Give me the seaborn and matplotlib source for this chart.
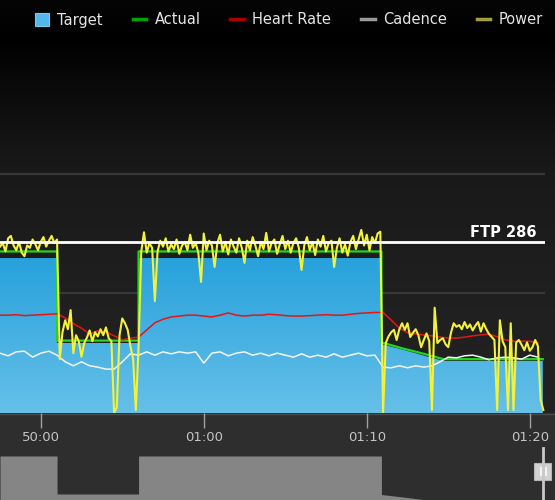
import numpy as np
import matplotlib
matplotlib.use("Agg")
import matplotlib.pyplot as plt
import seaborn as sns
from matplotlib.colors import LinearSegmentedColormap
from matplotlib.lines import Line2D
from matplotlib.patches import Rectangle, Patch

# ---------------- data ----------------
power_start_min = 47.5
power_step_min = 1 / 6          # 10 s samples
power_watts = [
    278, 284, 270, 292, 296, 280, 272, 286, 268, 262, 280, 276, 290, 282, 272, 286, 294, 278, 288, 296, 284, 290,
    90, 135, 155, 140, 172, 100, 130, 120, 94, 117, 126, 138, 120, 135, 128, 140, 130, 143, 125, 120, 0, 10,
    130, 158, 150, 139, 112, 90, 5, 110, 270,
    302, 268, 284, 276, 187, 270, 288, 278, 292, 270,
    282, 274, 290, 266, 280, 286, 272, 298, 276, 284,
    268, 219, 300, 272, 288, 280, 244, 284, 298, 270,
    286, 265, 290, 278, 268, 292, 276, 251, 288, 272,
    294, 280, 262, 286, 274, 301, 270, 284, 290, 266,
    282, 296, 274, 288, 268, 284, 292, 276, 239, 280,
    294, 272, 286, 264, 290, 278, 296, 270, 284, 288,
    244, 276, 292, 268, 282, 263, 286, 296, 274, 290,
    306, 280, 298, 272, 294, 284, 300, 303,
    0, 117, 128, 135, 139, 122, 140, 150, 139, 150,
    127, 134, 140, 130, 110, 122, 133, 120, 5, 176,
    117, 122, 125, 115, 110, 134, 150, 144, 147, 140,
    152, 142, 148, 138, 146, 152, 136, 150, 140, 132,
    127, 122, 5, 155, 120, 110, 5, 150, 5, 118,
    122, 114, 105, 118, 104, 110, 122, 112, 22, 5,
]

slow_step_min = 0.5             # 30 s samples
hr_bpm = [
    141.8, 141.8, 141.9, 141.7, 141.8, 141.9, 142.0, 142.1, 141.2, 139.9,
    138.9, 137.6, 138.3, 138.1, 137.2, 136.3, 136.7, 136.9, 138.5, 140.1,
    140.9, 141.4, 141.6, 141.8, 141.8, 141.6, 141.4, 141.8, 142.3, 141.8,
    141.6, 141.8, 141.8, 142.0, 141.9, 141.7, 141.6, 141.6, 141.7, 141.8,
    141.9, 141.8, 141.8, 142.0, 142.2, 142.3, 142.4, 142.4, 140.7, 138.9,
    137.9, 137.6, 137.4, 137.2, 136.9, 136.7, 136.7, 136.9, 137.2, 137.4,
    137.6, 137.0, 136.3, 136.0, 136.0, 136.0, 135.6,
]
cadence_rpm = [
    90, 86, 92, 93, 84, 90, 93, 87, 77, 71,
    77, 71, 69, 66, 66, 77, 89, 87, 92, 87,
    92, 89, 92, 90, 92, 75, 90, 92, 86, 90,
    92, 87, 90, 86, 90, 87, 84, 89, 84, 87,
    84, 89, 84, 87, 90, 86, 87, 69, 68, 71,
    68, 71, 69, 71, 77, 84, 83, 86, 87, 84,
    80, 83, 84, 83, 81, 87, 84,
]

target_time = [47.5, 51.0, 51.0, 56.0, 56.0, 70.9, 70.9, 72.2, 73.5, 74.7, 80.8]
target_watts = [259, 259, 117, 117, 259, 259, 115, 106, 96, 87, 87]
actual_watts = [270, 270, 121, 121, 270, 270, 118, 108, 99, 90, 90]

ftp_watts = 286
x_ticks = [50, 60, 70, 80]
x_tick_labels = ["50:00", "01:00", "01:10", "01:20"]
legend_labels = ["Target", "Actual", "Heart Rate", "Cadence", "Power"]

power_time = power_start_min + np.arange(len(power_watts)) * power_step_min
slow_time = power_start_min + np.arange(len(hr_bpm)) * slow_step_min

# ---------------- figure ----------------
W, H = 555, 500
fig = plt.figure(figsize=(W / 100, H / 100), dpi=100)
plt.rcParams["font.family"] = ["DejaVu Sans"]


def fx(px):
    return px / W


def fy(py):
    return 1 - py / H


X0, X1 = 47.5, 47.5 + 545 / 16.3

# background
bg = fig.add_axes([0, 0, 1, 1], zorder=-10)
bg.set_xlim(0, W)
bg.set_ylim(H, 0)
bg.axis("off")
yy = np.arange(H)
vals = np.interp(yy, [0, 40, 100, 170, 300, 413], [0.02, 0.0, 0.05, 0.098, 0.125, 0.135])
img = np.dstack([np.repeat(vals[:, None], 2, axis=1)] * 3)
bg.imshow(img, extent=[0, W, H, 0], aspect="auto", interpolation="bilinear")
bg.add_patch(Rectangle((0, 413), W, H - 413, color="#2e2e2e"))
bg.plot([0, W], [413.5, 413.5], color="#4a4a4a", lw=1)
bg.set_xlim(0, W)
bg.set_ylim(H, 0)

# main axes
ax = fig.add_axes([0, fy(413), fx(545), (413 - 54) / H])
ax.patch.set_alpha(0)
for s in ax.spines.values():
    s.set_visible(False)
ax.axhline(200, color="#383838", lw=1.5, zorder=1)
ax.axhline(400, color="#383838", lw=1.5, zorder=1)

poly = ax.fill_between(target_time, 0, target_watts, facecolor="none", edgecolor="none")
blue = LinearSegmentedColormap.from_list("blue", ["#66c0e8", "#27a1dc"])
grad = np.linspace(0, 1, 256).reshape(-1, 1)
im = ax.imshow(grad, extent=[X0, X1, 0, 260], origin="lower", cmap=blue,
               aspect="auto", zorder=2, interpolation="bilinear")
im.set_clip_path(poly.get_paths()[0], transform=ax.transData)

sns.lineplot(x=target_time, y=actual_watts, ax=ax, color="#22d422", lw=1.6,
             estimator=None, sort=False, zorder=3)

ax.set_xlim(X0, X1)
ax.set_ylim(0, 600)
ax.set_yticks([])
ax.set_xticks(x_ticks, x_tick_labels)
ax.tick_params(axis="x", direction="out", length=10.8, width=1, color="#a0a0a0",
               labelcolor="#c4c4c4", labelsize=9.5, pad=2)
ax.set_xlabel("")
ax.set_ylabel("")

# heart rate
ax_hr = ax.twinx()
sns.lineplot(x=slow_time, y=hr_bpm, ax=ax_hr, color="#e81414", lw=1.1)
ax_hr.set_ylim(120, 200)

# cadence
ax_cad = ax.twinx()
sns.lineplot(x=slow_time, y=cadence_rpm, ax=ax_cad, color="#f4f4f4", lw=1.1)
ax_cad.set_ylim(0, 540)

# power
ax_pw = ax.twinx()
sns.lineplot(x=power_time, y=power_watts, ax=ax_pw, color="#f2f23c", lw=1.5)
ax_pw.set_ylim(0, 600)
ax_pw.axhline(ftp_watts, color="white", lw=2, zorder=5)
ax_pw.text(X0 + 537 / 16.3, ftp_watts + 8, f"FTP {ftp_watts}", color="white",
           fontsize=10.5, fontweight="bold", ha="right", va="baseline", zorder=6)

for a in (ax_hr, ax_cad, ax_pw):
    a.yaxis.set_visible(False)
    a.set_ylabel("")
    for s in a.spines.values():
        s.set_visible(False)
ax.set_xlim(X0, X1)

# navigator
nav = fig.add_axes([0, 0, 1, 53 / H])
nav.fill_between(target_time, 0, target_watts, color="#858585", lw=0)
nav.set_xlim(X0, X0 + W / 16.3)
nav.set_ylim(94.6, 292.6)
nav.axis("off")

fig.add_artist(Line2D([fx(543), fx(543)], [fy(448), fy(499)], transform=fig.transFigure,
                      color="#c8c8c8", lw=2))
fig.add_artist(Rectangle((fx(534), fy(480)), fx(17), 17 / H, transform=fig.transFigure,
                         facecolor="#d2d2d2", edgecolor="#b4b4b4", lw=0.8))
for bx in (539.5, 544.5):
    fig.add_artist(Rectangle((fx(bx), fy(476)), fx(2), 9 / H, transform=fig.transFigure,
                             facecolor="#f4f4f4", edgecolor="none"))

# legend
handles = [
    Patch(facecolor="#52b8ea", edgecolor="#7ccaee", lw=0.8),
    Line2D([], [], color="#00a400", lw=2.5),
    Line2D([], [], color="#a80000", lw=2.5),
    Line2D([], [], color="#9a9a9a", lw=2.5),
    Line2D([], [], color="#a0a040", lw=2.5),
]
fig.legend(handles, legend_labels, loc="center", bbox_to_anchor=(fx(289), fy(20)), ncol=5,
           frameon=False, fontsize=10.5, labelcolor="#e4e4e4", handlelength=0.95,
           handleheight=1.0, handletextpad=0.55, columnspacing=2.05, borderaxespad=0)

fig.savefig("out.png", dpi=100, facecolor="black")
